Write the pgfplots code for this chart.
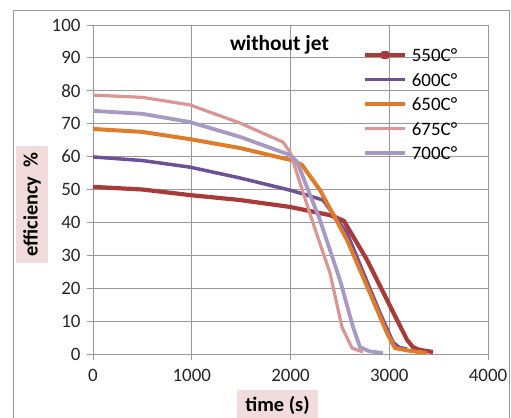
\documentclass[border=0pt]{standalone}
\usepackage{fontspec}
\setmainfont{Carlito}
\usepackage{pgfplots}
\pgfplotsset{compat=1.18}
\definecolor{c550}{HTML}{A83A3A}
\definecolor{c600}{HTML}{6E5098}
\definecolor{c650}{HTML}{E07B2A}
\definecolor{c675}{HTML}{D99694}
\definecolor{c700}{HTML}{A899C4}
\definecolor{gridc}{HTML}{999999}
\definecolor{pinkbg}{HTML}{F2DCDB}
\begin{document}
\begin{tikzpicture}
\useasboundingbox (0,0) rectangle (511bp,418bp);
\draw[gray!80, line width=1bp] (13bp,-5bp) rectangle (509.5bp,407bp);
\begin{axis}[
  at={(93bp,64bp)}, anchor=south west,
  scale only axis, width=395bp, height=329bp,
  xmin=0, xmax=4000, ymin=0, ymax=100,
  xtick={0,1000,2000,3000,4000}, ytick={0,10,...,100},
  grid=major,
  grid style={draw=gridc, line width=0.9bp},
  axis line style={draw=gridc, line width=0.9bp},
  tick style={draw=gridc, line width=0.9bp},
  tick align=outside, tick pos=left, major tick length=6bp,
  ticklabel style={font=\fontsize{19}{19}\selectfont, text=black!85},
  yticklabel style={xshift=-3bp},
  xticklabel style={yshift=-6bp},
  /pgf/number format/assume math mode=true,
  /pgf/number format/1000 sep={},
  scaled x ticks=false,
  legend style={at={(0.684,0.929)}, anchor=north west, draw=none, fill=none,
    inner sep=0pt, font=\fontsize{19}{19}\selectfont,
    row sep=11.5bp, column sep=5bp,
    nodes={inner sep=0pt, text height=13bp, text depth=0pt}},
  legend cell align=left,
  legend image code/.code={\draw[#1, line width=3.5bp] (0bp,0bp) -- (40bp,0bp);},
]
\addplot[c550, line width=4.2bp, line join=round,
  legend image code/.code={\draw[c550, line width=3.5bp] (0bp,0bp) -- (40bp,0bp);
    \fill[c550] (18bp,-2bp) rectangle (22bp,2bp);}] coordinates {
(0,50.8) (500,50.0) (982,48.3) (1489,46.8) (1995,44.7) (2400,42.2) (2540,40.5)
(2775,28.6) (3180,4.3) (3240,2.1) (3300,1.3) (3443,0.6)};
\addlegendentry{550C°}
\addplot[c600, line width=3.5bp, line join=round] coordinates {
(0,59.9) (500,58.8) (982,56.8) (1489,53.5) (1995,49.8) (2167,48.3) (2329,46.8)
(2572,36.8) (2906,12.5) (3038,3.6) (3100,2.0) (3180,1.5)};
\addlegendentry{600C°}
\addplot[c650, line width=4bp, line join=round] coordinates {
(0,68.4) (500,67.5) (982,65.3) (1489,62.6) (1924,59.5) (2000,59) (2116,57.5)
(2299,49.8) (2572,34.7) (2805,18.5) (2977,6.4) (3058,1.8) (3200,1.0) (3382,0.3)};
\addlegendentry{650C°}
\addplot[c675, line width=3.2bp, line join=round] coordinates {
(0,78.7) (500,78) (982,75.7) (1489,70.2) (1924,64.4) (1995,61.4) (2228,39.8)
(2400,24.6) (2521,8.2) (2623,1.8) (2734,0.6)};
\addlegendentry{675C°}
\addplot[c700, line width=3.8bp, line join=round] coordinates {
(0,73.9) (500,73) (982,70.5) (1489,66) (1995,60.5) (2065,58.5) (2299,40.7)
(2501,22.5) (2633,8.2) (2704,2.1) (2800,0.8) (2937,0.3)};
\addlegendentry{700C°}
\end{axis}
\node[font=\bfseries\fontsize{21.5}{21.5}\selectfont, anchor=base] at (279.5bp,367bp) {without jet};
\node[rotate=90, fill=pinkbg, minimum width=117bp, minimum height=32bp, inner sep=0pt,
  font=\bfseries\fontsize{20.5}{20.5}\selectfont] at (32bp,213.5bp) {efficiency~~\%};
\node[fill=pinkbg, minimum width=81bp, minimum height=30bp, inner sep=0pt,
  font=\bfseries\fontsize{20.5}{20.5}\selectfont] at (277.5bp,13bp) {time (s)};
\end{tikzpicture}
\end{document}
